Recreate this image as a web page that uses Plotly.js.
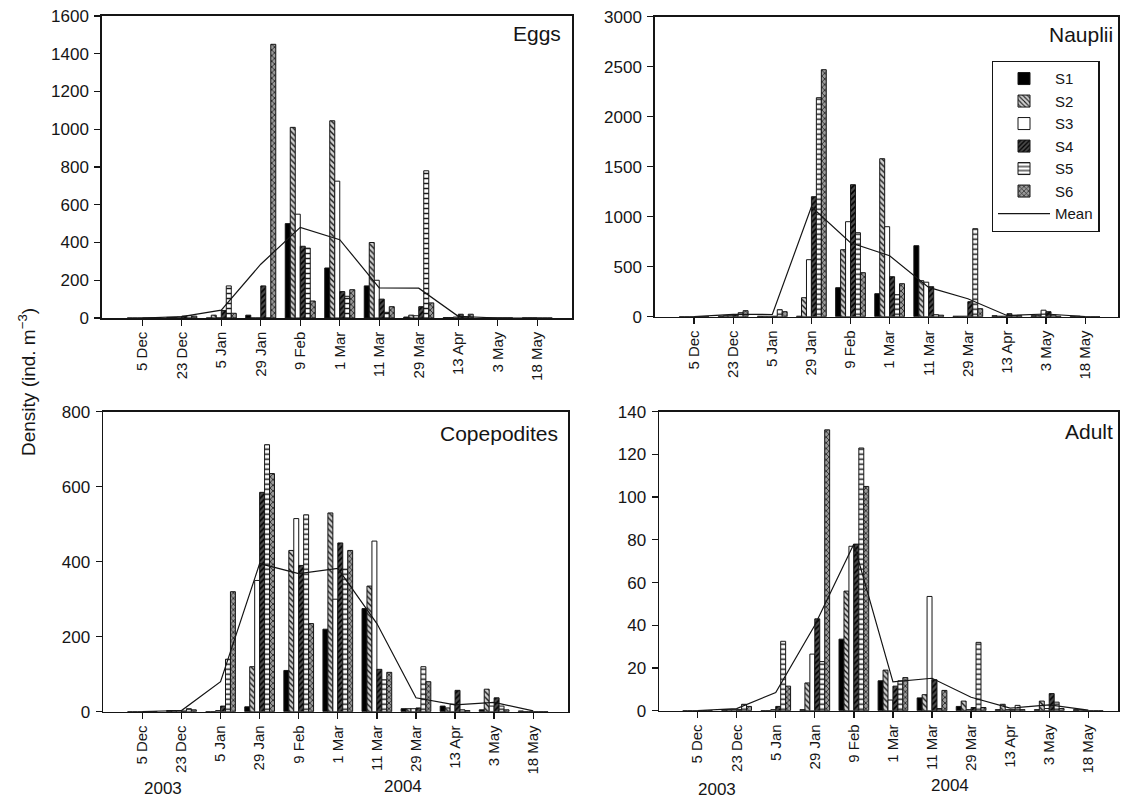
<!DOCTYPE html>
<html>
<head>
<meta charset="utf-8">
<script src="https://cdn.plot.ly/plotly-3.0.1.min.js"></script>
<style>html,body{margin:0;padding:0;background:#fff;}#chart{width:1122px;height:798px;}</style>
</head>
<body>
<div id="chart"></div>
<script>
// ---- categories ----
const dates = ['5 Dec','23 Dec','5 Jan','29 Jan','9 Feb','1 Mar','11 Mar','29 Mar','13 Apr','3 May','18 May'];
const stations = ['S1','S2','S3','S4','S5','S6'];

// ---- Eggs ----
const eggsS1 = [0, 3, 0, 15, 500, 265, 170, 5, 2, 0, 0];
const eggsS2 = [0, 3, 15, 0, 1010, 1045, 400, 15, 2, 0, 0];
const eggsS3 = [0, 5, 0, 0, 550, 725, 200, 12, 5, 0, 0];
const eggsS4 = [0, 10, 40, 170, 380, 140, 100, 60, 20, 0, 0];
const eggsS5 = [0, 12, 170, 0, 370, 115, 30, 780, 5, 0, 0];
const eggsS6 = [0, 10, 25, 1450, 90, 150, 60, 80, 20, 0, 0];
const eggsMean = [0, 7, 42, 285, 480, 415, 160, 158, 9, 0, 0];

// ---- Nauplii ----
const naupS1 = [0, 5, 5, 5, 290, 230, 710, 5, 10, 10, 5];
const naupS2 = [0, 10, 5, 190, 670, 1580, 360, 5, 5, 15, 5];
const naupS3 = [0, 10, 5, 570, 950, 900, 345, 5, 5, 65, 0];
const naupS4 = [0, 20, 5, 1200, 1320, 400, 300, 150, 30, 50, 0];
const naupS5 = [0, 40, 70, 2190, 840, 220, 20, 880, 10, 15, 0];
const naupS6 = [0, 60, 50, 2470, 440, 330, 15, 80, 10, 5, 0];
const naupMean = [0, 24, 22, 1100, 740, 610, 293, 180, 12, 27, 2];

// ---- Copepodites ----
const copS1 = [0, 3, 0, 13, 110, 220, 275, 8, 15, 5, 2];
const copS2 = [0, 3, 0, 120, 430, 530, 335, 8, 10, 60, 0];
const copS3 = [0, 3, 3, 350, 515, 300, 455, 8, 20, 15, 0];
const copS4 = [0, 2, 15, 585, 390, 450, 113, 10, 57, 37, 0];
const copS5 = [0, 8, 140, 712, 525, 380, 85, 120, 5, 15, 0];
const copS6 = [0, 5, 320, 635, 235, 430, 105, 80, 3, 5, 0];
const copMean = [0, 3, 80, 395, 368, 382, 235, 37, 18, 25, 2];

// ---- Adult ----
const adS1 = [0, 0.5, 0, 0.5, 33.5, 14, 6, 2, 0.5, 0.5, 0.5];
const adS2 = [0, 0.5, 0, 13, 56, 19, 7.5, 4.5, 3, 4.5, 0.5];
const adS3 = [0, 0.5, 0.5, 26.5, 77, 5, 53.5, 0.5, 0.5, 1, 0];
const adS4 = [0, 0.5, 2, 43, 78, 11.5, 14.5, 1.5, 0.5, 8, 0];
const adS5 = [0, 3, 32.5, 23, 123, 14, 1, 32, 2.5, 4, 0];
const adS6 = [0, 2, 11.5, 131.5, 105, 15.5, 9.5, 1.5, 0.5, 1, 0];
const adMean = [0, 1, 8.5, 40, 78, 13.5, 15.2, 6.3, 1.2, 2.7, 0.3];

// ---- styles ----
const FONT = 'Liberation Sans, Arial, sans-serif';
const INK = '#151515';
const stationStyle = [
  {color: '#000000'},
  {color: '#cfcfcf', pattern: {shape: '\\', fgcolor: '#1a1a1a', bgcolor: '#cfcfcf', size: 4, solidity: 0.35}},
  {color: '#ffffff'},
  {color: '#3a3a3a', pattern: {shape: '/', fgcolor: '#000000', bgcolor: '#4a4a4a', size: 4, solidity: 0.4}},
  {color: '#ffffff', pattern: {shape: '-', fgcolor: '#1a1a1a', bgcolor: '#ffffff', size: 5, solidity: 0.3}},
  {color: '#8a8a8a', pattern: {shape: 'x', fgcolor: '#1a1a1a', bgcolor: '#9a9a9a', size: 4, solidity: 0.35}}
];

const panels = [
  {series: [eggsS1, eggsS2, eggsS3, eggsS4, eggsS5, eggsS6], mean: eggsMean, xa: 'x', ya: 'y', legend: false},
  {series: [naupS1, naupS2, naupS3, naupS4, naupS5, naupS6], mean: naupMean, xa: 'x2', ya: 'y2', legend: true},
  {series: [copS1, copS2, copS3, copS4, copS5, copS6], mean: copMean, xa: 'x3', ya: 'y3', legend: false},
  {series: [adS1, adS2, adS3, adS4, adS5, adS6], mean: adMean, xa: 'x4', ya: 'y4', legend: false}
];

const traces = [];
panels.forEach(p => {
  p.series.forEach((vals, i) => {
    const st = stationStyle[i];
    const marker = {color: st.color, line: {color: INK, width: 1}};
    if (st.pattern) marker.pattern = st.pattern;
    traces.push({
      type: 'bar', x: dates, y: vals, name: stations[i], xaxis: p.xa, yaxis: p.ya,
      marker: marker, showlegend: p.legend, legendgroup: stations[i], hoverinfo: 'x+y+name'
    });
  });
  traces.push({
    type: 'scatter', mode: 'lines', x: dates, y: p.mean, name: 'Mean', xaxis: p.xa, yaxis: p.ya,
    line: {color: INK, width: 1.2}, showlegend: p.legend, legendgroup: 'Mean'
  });
});

const W = 1122, H = 798;
function xd(a, b) { return [a / W, b / W]; }
function yd(top, bottom) { return [1 - bottom / H, 1 - top / H]; }

function xAxis(domain, range, anchor) {
  return {
    domain: domain, anchor: anchor, type: 'category', categoryorder: 'array', categoryarray: dates,
    range: range, tickangle: -90, ticks: 'outside', ticklen: 6, tickwidth: 1.3, tickcolor: INK,
    showline: true, linecolor: INK, linewidth: 1.7, mirror: true, showgrid: false, zeroline: false,
    tickfont: {family: FONT, size: 15, color: INK}, fixedrange: true
  };
}
function yAxis(domain, range, dtick, anchor) {
  return {
    domain: domain, anchor: anchor, range: range, dtick: dtick, tick0: 0, ticks: 'outside', ticklen: 6,
    tickwidth: 1.3, tickcolor: INK, showline: true, linecolor: INK, linewidth: 1.7, mirror: true,
    showgrid: false, zeroline: false, tickfont: {family: FONT, size: 17, color: INK},
    ticklabelstandoff: 2, fixedrange: true
  };
}

function ann(text, px, py, xanchor, size, extra) {
  return Object.assign({
    text: text, xref: 'paper', yref: 'paper', x: px / W, y: 1 - py / H,
    xanchor: xanchor, yanchor: 'middle', showarrow: false,
    font: {family: FONT, size: size, color: INK}
  }, extra || {});
}

const layout = {
  width: W, height: H,
  margin: {l: 0, r: 0, t: 0, b: 0},
  paper_bgcolor: '#ffffff', plot_bgcolor: '#ffffff',
  barmode: 'group', bargap: 0.24, bargroupgap: 0,
  font: {family: FONT, color: INK},
  xaxis: xAxis(xd(102, 572), [-1.02, 10.88], 'y'),
  yaxis: yAxis(yd(16, 318), [0, 1600], 200, 'x'),
  xaxis2: xAxis(xd(655, 1118), [-1.0, 10.84], 'y2'),
  yaxis2: yAxis(yd(16.7, 316.7), [0, 3000], 500, 'x2'),
  xaxis3: xAxis(xd(103.3, 568), [-1.0, 10.89], 'y3'),
  yaxis3: yAxis(yd(411.7, 711.7), [0, 800], 200, 'x3'),
  xaxis4: xAxis(xd(659.3, 1118), [-0.98, 10.76], 'y4'),
  yaxis4: yAxis(yd(411.7, 710.7), [0, 140], 20, 'x4'),
  showlegend: true,
  legend: {
    x: 991.7 / W, y: 1 - 61 / H, xanchor: 'left', yanchor: 'top',
    bgcolor: '#ffffff', bordercolor: INK, borderwidth: 1.3,
    font: {family: FONT, size: 15, color: INK}, itemwidth: 52, traceorder: 'normal',
    tracegroupgap: 0
  },
  annotations: [
    ann('Eggs', 563, 34, 'right', 21),
    ann('Nauplii', 1115, 34.5, 'right', 21),
    ann('Copepodites', 560, 433, 'right', 21),
    ann('Adult', 1115, 431, 'right', 21),
    ann('Density (ind. m<sup>\u22123</sup>)', 27, 382, 'center', 19, {textangle: -90}),
    ann('2003', 163, 788, 'center', 17),
    ann('2004', 402.5, 786, 'center', 17),
    ann('2003', 717, 789, 'center', 17),
    ann('2004', 950, 785.5, 'center', 17)
  ]
};

Plotly.newPlot('chart', traces, layout, {displayModeBar: false, staticPlot: true});
</script>
</body>
</html>
